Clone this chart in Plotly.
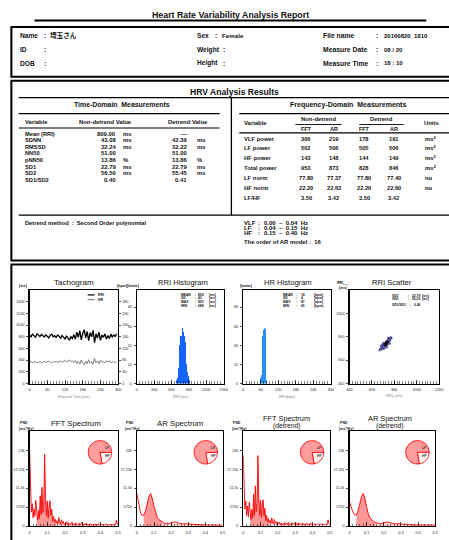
import plotly.graph_objects as go

W, H = 449, 540
FONT = "Liberation Sans, Arial, Noto Sans CJK JP, sans-serif"

# ---------------- data ----------------
report_title = "Heart Rate Variability Analysis Report"
patient_left = [("Name", "埼玉さん"), ("ID", ""), ("DOB", "")]
patient_mid = [("Sex", "Female"), ("Weight", ""), ("Height", "")]
patient_right = [("File name", "20160820_1810"), ("Measure Date", "08 / 20"), ("Measure Time", "18 : 10")]

td_vars = ["Mean (RRI)", "SDNN", "RMSSD", "NN50", "pNN50", "SD1", "SD2", "SD1/SD2"]
td_nondetrend = ["809.00", "43.08", "32.24", "51.00", "13.86", "22.79", "56.50", "0.40"]
td_detrend = ["—", "42.39", "32.22", "51.00", "13.86", "22.79", "55.45", "0.41"]
td_units = ["ms", "ms", "ms", "", "%", "ms", "ms", ""]
td_units_d = ["", "ms", "ms", "", "%", "ms", "ms", ""]

fd_vars = ["VLF power", "LF power", "HF power", "Total power", "LF norm", "HF norm", "LF/HF"]
fd_fft = ["306", "502", "143", "953", "77.80", "22.20", "3.50"]
fd_ar = ["219", "506", "148", "873", "77.37", "22.63", "3.42"]
fd_fft_d = ["178", "505", "144", "828", "77.80", "22.20", "3.50"]
fd_ar_d = ["191", "506", "149", "846", "77.40", "22.60", "3.42"]
fd_units = ["ms<sup>2</sup>", "ms<sup>2</sup>", "ms<sup>2</sup>", "ms<sup>2</sup>", "nu", "nu", ""]

bands = [("VLF", "0.00  –  0.04  Hz"), ("LF", "0.04  –  0.15  Hz"), ("HF", "0.15  –  0.40  Hz")]
ar_order = 16
detrend_method = "Second Order polynomial"

# pie values (LF norm / HF norm) for FFT, AR, FFT detrend, AR detrend
lf_norm = [77.80, 77.37, 77.80, 77.40]
hf_norm = [22.20, 22.63, 22.20, 22.60]

# tachogram
tach_t = [0, 5, 10, 15, 20, 25, 30, 35, 40, 45, 50, 55, 60, 65, 70, 75, 80, 85, 90, 95,
          100, 105, 110, 115, 120, 125, 130, 135, 140, 145, 150, 155, 160, 165, 170, 175, 180, 185, 190, 195,
          200, 205, 210, 215, 220, 225, 230, 235, 240, 245, 250, 255, 260, 265, 270, 275, 280, 285, 290, 295]
tach_rri = [830, 800, 845, 815, 790, 850, 820, 805, 840, 810,
            795, 835, 812, 780, 825, 845, 800, 818, 790, 830,
            808, 770, 822, 795, 760, 815, 785, 740, 800, 770,
            835, 760, 880, 790, 905, 745, 860, 920, 780, 890,
            735, 870, 800, 910, 700, 850, 775, 880, 740, 830,
            790, 850, 760, 820, 770, 845, 795, 830, 805, 850]
tach_hr = [72.3, 75.0, 71.0, 73.6, 75.9, 70.6, 73.2, 74.5, 71.4, 74.1,
           75.5, 71.9, 73.9, 76.9, 72.7, 71.0, 75.0, 73.3, 75.9, 72.3,
           74.3, 77.9, 73.0, 75.5, 78.9, 73.6, 76.4, 81.1, 75.0, 77.9,
           71.9, 78.9, 68.2, 75.9, 66.3, 80.5, 69.8, 65.2, 76.9, 67.4,
           81.6, 69.0, 75.0, 65.9, 85.7, 70.6, 77.4, 68.2, 81.1, 72.3,
           75.9, 70.6, 78.9, 73.2, 77.9, 71.0, 75.5, 72.3, 74.5, 70.6]

# RRI histogram
rri_bins = [690, 700, 710, 720, 730, 740, 750, 760, 770, 780, 790, 800,
            810, 820, 830, 840, 850, 860, 870, 880, 890, 900, 910, 920]
rri_counts = [2, 3, 5, 8, 13, 20, 24, 25, 25, 26, 29, 30,
              27, 25, 24, 22, 16, 10, 7, 6, 4, 3, 2, 1]
rri_stats = [("MEAN", "809", "[ms]"), ("SD", "43", "[ms]"), ("MAX", "925", "[ms]"), ("MIN", "688", "[ms]")]

# HR histogram
hr_bins = [60, 62, 64, 66, 68, 70, 72, 74, 76, 78, 80, 82]
hr_counts = [6, 9, 14, 50, 53, 56, 58, 60, 57, 12, 4, 1]
hr_stats = [("MEAN", "74", "[bpm]"), ("SD", "4", "[bpm]"), ("MAX", "87", "[bpm]"), ("MIN", "65", "[bpm]")]

# RRI scatter (Poincare)
sc_x = [680, 688, 690, 695, 700, 702, 705, 708, 712, 715, 718, 720, 722, 725, 728, 730, 733, 735, 738, 740,
        742, 745, 748, 750, 753, 756, 758, 760, 765, 770, 775, 680, 672, 668, 700, 760, 710, 745, 690, 735]
sc_y = [700, 690, 712, 705, 720, 698, 730, 712, 725, 740, 710, 735, 750, 728, 760, 742, 722, 765, 748, 770,
        735, 760, 778, 752, 770, 785, 762, 790, 775, 795, 788, 720, 695, 684, 745, 740, 700, 790, 730, 710]
core_x = [715, 720, 725, 728, 732, 735, 738, 722, 730, 740, 718, 726]
core_y = [732, 740, 745, 738, 750, 748, 755, 728, 745, 752, 736, 750]
sc_stats = [("SD1", "22.79", "[ms]"), ("SD2", "56.50", "[ms]"), ("SD1/SD2", "0.40", "")]

# spectra
fft_f = [0.000, 0.005, 0.010, 0.015, 0.020, 0.025, 0.030, 0.035, 0.040, 0.045,
         0.050, 0.055, 0.060, 0.065, 0.070, 0.075, 0.080, 0.085, 0.090, 0.095,
         0.100, 0.105, 0.110, 0.115, 0.120, 0.125, 0.130, 0.135, 0.140, 0.145,
         0.150, 0.155, 0.160, 0.165, 0.170, 0.175, 0.180, 0.185, 0.190, 0.195,
         0.200, 0.205, 0.210, 0.215, 0.220, 0.225, 0.230, 0.235, 0.240, 0.245,
         0.250, 0.255, 0.260, 0.265, 0.270, 0.275, 0.280, 0.285, 0.290, 0.295,
         0.300, 0.305, 0.310, 0.315, 0.320, 0.325, 0.330, 0.335, 0.340, 0.345,
         0.350, 0.355, 0.360, 0.365, 0.370, 0.375, 0.380, 0.385, 0.390, 0.395,
         0.400, 0.405, 0.410, 0.415, 0.420, 0.425, 0.430, 0.435, 0.440, 0.445,
         0.450, 0.455, 0.460, 0.465, 0.470, 0.475, 0.480, 0.485, 0.490, 0.495, 0.500]
fft_psd = [23000, 12500, 4200, 6800, 2500, 5200, 3000, 7800, 3600, 1800,
           4800, 2200, 9200, 3500, 11800, 4100, 6500, 21800, 8600, 3100,
           7600, 2400, 6200, 7700, 3300, 5100, 1500, 3000, 1200, 2100,
           900, 1600, 700, 2600, 1100, 500, 1900, 800, 1400, 400,
           900, 600, 1300, 300, 1000, 500, 200, 800, 1200, 400,
           700, 300, 1000, 500, 200, 600, 900, 300, 500, 1100,
           400, 200, 700, 300, 900, 400, 600, 200, 500, 800,
           300, 200, 600, 400, 700, 200, 500, 300, 800, 400,
           200, 500, 300, 600, 200, 400, 700, 300, 200, 500,
           300, 600, 200, 400, 300, 500, 200, 400, 1800, 600, 300]
fft_psd_d = [21500, 14500, 5200, 7600, 3200, 6100, 2800, 7200, 3900, 2000,
             5100, 2400, 9600, 3300, 12200, 4400, 6900, 21400, 8300, 3300,
             7900, 2600, 6500, 8000, 3100, 5400, 1700, 3200, 1300, 2300,
             1000, 1700, 800, 2500, 1200, 600, 2000, 900, 1300, 500,
             1000, 700, 1200, 400, 900, 600, 300, 900, 1100, 500,
             800, 400, 1100, 600, 300, 500, 1000, 400, 600, 1000,
             500, 300, 800, 400, 1000, 500, 700, 300, 600, 900,
             400, 300, 700, 500, 800, 300, 600, 400, 900, 500,
             300, 600, 400, 700, 300, 500, 800, 400, 300, 600,
             400, 700, 300, 500, 400, 600, 300, 500, 1900, 700, 400]
ar_f = [0.00, 0.01, 0.02, 0.03, 0.04, 0.05, 0.06, 0.07, 0.08, 0.09,
        0.10, 0.11, 0.12, 0.13, 0.14, 0.15, 0.16, 0.17, 0.18, 0.19,
        0.20, 0.21, 0.22, 0.23, 0.24, 0.25, 0.26, 0.27, 0.28, 0.29,
        0.30, 0.31, 0.32, 0.33, 0.34, 0.35, 0.36, 0.37, 0.38, 0.39,
        0.40, 0.41, 0.42, 0.43, 0.44, 0.45, 0.46, 0.47, 0.48, 0.49, 0.50]
ar_psd = [9900, 7000, 4300, 3200, 3300, 4500, 6600, 8900, 9900, 8400,
          6000, 3800, 2500, 1900, 1500, 1100, 900, 800, 700, 800,
          1000, 1200, 1300, 1100, 900, 800, 700, 700, 800, 700,
          600, 600, 500, 500, 500, 400, 400, 400, 350, 350,
          300, 300, 300, 300, 250, 250, 300, 350, 400, 350, 300]
ar_psd_d = [7400, 5800, 4200, 3400, 3400, 4600, 6700, 9000, 9900, 8300,
            5800, 3600, 2400, 1800, 1400, 1100, 900, 800, 700, 800,
            1000, 1200, 1300, 1100, 900, 800, 700, 700, 800, 700,
            600, 600, 500, 500, 500, 400, 400, 400, 350, 350,
            300, 300, 300, 300, 250, 250, 300, 350, 400, 350, 300]


# ---------------- helpers ----------------
def X(px):
    return px / W


def Y(py):
    return 1 - py / H


annotations = []
shapes = []


def T(x, y, s, size=6, xa="left", bold=True, color="#111"):
    annotations.append(dict(
        x=X(x), y=Y(y), xref="paper", yref="paper",
        text=("<b>" + s + "</b>") if (bold and s) else s,
        showarrow=False, xanchor=xa, yanchor="middle", borderpad=0,
        font=dict(size=size, color=color, family=FONT)))


def L(x0, y0, x1, y1, w=1.2, color="black"):
    shapes.append(dict(type="line", xref="paper", yref="paper",
                       x0=X(x0), y0=Y(y0), x1=X(x1), y1=Y(y1),
                       line=dict(color=color, width=w)))


def R(x0, y0, x1, y1, w=2.0):
    shapes.append(dict(type="rect", xref="paper", yref="paper",
                       x0=X(x0), y0=Y(y0), x1=X(x1), y1=Y(y1),
                       line=dict(color="black", width=w)))


# ---------------- header & boxes ----------------
T(231, 15, report_title, size=8.8, xa="center")
L(32, 20.5, 430, 20.5, w=2)
R(8.5, 27, 470, 77)
R(8.5, 81, 470, 261.5)
R(8.5, 265.5, 470, 600)

rows_y = [36, 50, 63.5]
for i, (lab, val) in enumerate(patient_left):
    T(16, rows_y[i], lab, 6.6)
    T(41, rows_y[i], ":", 6.6)
    if val:
        T(47, rows_y[i], val, 6.6)
for i, (lab, val) in enumerate(patient_mid):
    T(196, rows_y[i], lab, 6.6)
    T(214 if i == 0 else 222, rows_y[i], ":", 6.6)
    if val:
        T(221, rows_y[i], val, 6.2)
for i, (lab, val) in enumerate(patient_right):
    T(324, rows_y[i], lab, 6.8)
    T(378, rows_y[i], ":", 6.6)
    T(386, rows_y[i], val, 6.0)

# ---------------- HRV analysis results ----------------
T(235, 92, "HRV Analysis Results", 8.6, xa="center")
L(16, 98, 470, 98, w=1.3)
L(232, 98, 232, 216, w=1.3)
L(16, 216, 470, 216, w=1.3)

# time domain
T(121, 105, "Time-Domain  Measurements", 6.9, xa="center")
L(16, 114, 220, 114, w=1.2)
L(16, 128.5, 220, 128.5, w=1.2)
T(21, 122, "Variable", 5.9)
T(104, 122, "Non-detrend Value", 5.9, xa="center")
T(188, 122, "Detrend Value", 5.9, xa="center")
td_y = [134.3, 141, 147.3, 154, 160.7, 167.3, 174, 180.7]
for i, v in enumerate(td_vars):
    T(21, td_y[i], v, 5.7)
    T(116, td_y[i], td_nondetrend[i], 5.9, xa="right")
    if td_units[i]:
        T(121, td_y[i], td_units[i], 5.9)
    if td_detrend[i] == "—":
        T(184, td_y[i], td_detrend[i], 5.9, xa="center")
    else:
        T(188, td_y[i], td_detrend[i], 5.9, xa="right")
    if td_units_d[i]:
        T(196, td_y[i], td_units_d[i], 5.9)
T(21, 224, "Detrend method  :  " + detrend_method, 5.7)

# frequency domain
T(350, 105, "Frequency-Domain  Measurements", 7.0, xa="center")
L(240, 114, 470, 114, w=1.2)
L(240, 133.3, 470, 133.3, w=1.2)
T(244, 123, "Variable", 5.9)
T(321, 119.5, "Non-detrend", 5.9, xa="center")
L(297, 125, 344, 125, w=0.9)
T(385, 119.5, "Detrend", 5.9, xa="center")
L(362, 125, 407, 125, w=0.9)
T(435, 123, "Units", 5.9, xa="center")
col_x = [308, 336, 367, 397]
for cx, h in zip(col_x, ["FFT", "AR", "FFT", "AR"]):
    T(cx, 129.5, h, 5.4, xa="center")
fd_y = [139.3, 148.3, 158.3, 168.3, 178.3, 188.3, 198.3]
for i, v in enumerate(fd_vars):
    T(244, fd_y[i], v, 5.9)
    for cx, arr in zip(col_x, [fd_fft, fd_ar, fd_fft_d, fd_ar_d]):
        T(cx, fd_y[i], arr[i], 5.7, xa="center")
    if fd_units[i]:
        T(428, fd_y[i], fd_units[i], 5.9)
band_y = [224.3, 229.2, 234.2]
for i, (b, rng) in enumerate(bands):
    T(244, band_y[i], b, 6.0)
    T(258, band_y[i], ":", 6.0)
    T(264, band_y[i], rng, 6.0)
T(244, 243.3, "The order of AR model :  " + str(ar_order), 5.9)

# ---------------- plots ----------------
row1 = [291, 385]
row2 = [433, 528]
cols1 = [[27, 117], [136, 224], [244, 333], [352, 443]]
cols2 = [[27, 117], [136, 223], [244, 332], [352, 439]]


def xax(dom, rng, tickvals, minor_dtick, anchor, ticktext=None):
    d = dict(domain=[X(dom[0]), X(dom[1])], range=rng, anchor=anchor,
             showline=True, mirror=True, linecolor="black", linewidth=1.3,
             ticks="inside", ticklen=4, tickwidth=0.7, tickcolor="black",
             tickmode="array", tickvals=tickvals,
             tickfont=dict(size=3.8, family=FONT, color="#222"),
             minor=dict(dtick=minor_dtick, tick0=rng[0], ticks="inside", ticklen=2.2,
                        tickwidth=0.5, tickcolor="black", showgrid=False),
             showgrid=False, zeroline=False, fixedrange=True, ticklabelstandoff=2)
    if ticktext is not None:
        d["ticktext"] = ticktext
    return d


def yax(dom, rng, tickvals, anchor, side="left"):
    return dict(domain=[Y(dom[1]), Y(dom[0])], range=rng, anchor=anchor, side=side,
                showline=True, mirror=True, linecolor="black", linewidth=1.3,
                ticks="outside", ticklen=2, tickwidth=0.7, tickcolor="black",
                tickmode="array", tickvals=tickvals,
                tickfont=dict(size=3.7, family=FONT, color="#222"),
                showgrid=False, zeroline=False, fixedrange=True, ticklabelstandoff=1)


layout_axes = {}
traces = []

# Tachogram
layout_axes["xaxis"] = xax(cols1[0], [0, 300], [0, 60, 120, 180, 240, 300], 10, "y")
layout_axes["yaxis"] = yax(row1, [0, 1600], [0, 200, 400, 600, 800, 1000, 1200, 1400], "x")
y2 = yax(row1, [0, 320], [0, 40, 80, 120, 160, 200, 240, 280], "x", side="right")
y2["overlaying"] = "y"
y2["mirror"] = False
y2["ticklabelstandoff"] = 0
layout_axes["yaxis2"] = y2
traces.append(go.Scatter(x=tach_t, y=tach_hr, mode="lines", line=dict(color="#808080", width=1.0),
                         xaxis="x", yaxis="y2"))
traces.append(go.Scatter(x=tach_t, y=tach_rri, mode="lines", line=dict(color="black", width=1.3),
                         xaxis="x", yaxis="y"))

# RRI histogram
layout_axes["xaxis2"] = xax(cols1[1], [0, 1500], [0, 300, 600, 900, 1200, 1500], 50, "y3")
layout_axes["yaxis3"] = yax(row1, [0, 49], [0, 10, 20, 30, 40], "x2")
traces.append(go.Bar(x=rri_bins, y=rri_counts, width=10, marker=dict(color="rgb(20,100,255)", line=dict(width=0)),
                     xaxis="x2", yaxis="y3"))

# HR histogram
layout_axes["xaxis3"] = xax(cols1[2], [0, 300], [0, 60, 120, 180, 240, 300], 10, "y4")
layout_axes["yaxis4"] = yax(row1, [0, 98], [0, 20, 40, 60, 80], "x3")
traces.append(go.Bar(x=hr_bins, y=hr_counts, width=2, marker=dict(color="rgb(40,145,255)", line=dict(width=0)),
                     xaxis="x3", yaxis="y4"))

# RRI scatter
layout_axes["xaxis4"] = xax(cols1[3], [400, 1200], [400, 600, 800, 1000, 1200], 25, "y5")
layout_axes["yaxis5"] = yax(row1, [400, 1200], [400, 600, 800, 1000], "x4")
traces.append(go.Scatter(x=sc_x, y=sc_y, mode="markers", marker=dict(color="#4a4a9c", size=2.2),
                         xaxis="x4", yaxis="y5"))
traces.append(go.Scatter(x=core_x, y=core_y, mode="markers", marker=dict(color="#111111", size=2.4),
                         xaxis="x4", yaxis="y5"))

# spectra
spec_axes = [("xaxis5", "yaxis6", "x5", "y6"), ("xaxis6", "yaxis7", "x6", "y7"),
             ("xaxis7", "yaxis8", "x7", "y8"), ("xaxis8", "yaxis9", "x8", "y9")]
spec_data = [(fft_f, fft_psd), (ar_f, ar_psd), (fft_f, fft_psd_d), (ar_f, ar_psd_d)]
for k, ((xa, ya, xr, yr), (fx, fy)) in enumerate(zip(spec_axes, spec_data)):
    layout_axes[xa] = xax(cols2[k], [0, 0.5], [0, 0.1, 0.2, 0.3, 0.4, 0.5], 0.02, yr,
                          ticktext=["0", "0.1", "0.2", "0.3", "0.4", "0.5"])
    layout_axes[ya] = yax(row2, [0, 28750], [0, 5750, 11500, 17250, 23000], xr)
    lf_idx = [i for i, f in enumerate(fx) if 0.04 - 1e-9 <= f <= 0.15 + 1e-9]
    hf_idx = [i for i, f in enumerate(fx) if 0.15 - 1e-9 <= f <= 0.40 + 1e-9]
    traces.append(go.Scatter(x=[fx[i] for i in hf_idx], y=[fy[i] for i in hf_idx], mode="lines",
                             line=dict(width=0), fill="tozeroy", fillcolor="rgba(255,205,205,0.9)",
                             xaxis=xr, yaxis=yr))
    traces.append(go.Scatter(x=[fx[i] for i in lf_idx], y=[fy[i] for i in lf_idx], mode="lines",
                             line=dict(width=0), fill="tozeroy", fillcolor="rgba(255,145,145,0.95)",
                             xaxis=xr, yaxis=yr))
    traces.append(go.Scatter(x=fx, y=fy, mode="lines", line=dict(color="#ff0000", width=0.9),
                             xaxis=xr, yaxis=yr))

# pies
pie_cx = [98.5, 206, 314, 421]
pie_cy = 454
pr = 12
for k in range(4):
    cx = pie_cx[k]
    traces.append(go.Pie(values=[hf_norm[k], lf_norm[k]], labels=["HF", "LF"],
                         domain=dict(x=[X(cx - pr), X(cx + pr)], y=[Y(pie_cy + pr), Y(pie_cy - pr)]),
                         rotation=90, direction="clockwise", sort=False,
                         marker=dict(colors=["#fff2f2", "#ff9c9c"], line=dict(color="#ff0000", width=0.8)),
                         textinfo="none", hoverinfo="skip", showlegend=False))
    T(cx + 4, pie_cy - 4, "LF", 3.4, bold=True, color="#333")
    T(cx + 4, pie_cy + 4, "HF", 3.4, bold=True, color="#333")

# plot titles
T(72, 283.3, "Tachogram", 8, xa="center", bold=False)
T(182.5, 283.3, "RRI Histogram", 7.6, xa="center", bold=False)
T(290, 283.3, "HR Histogram", 7.6, xa="center", bold=False)
T(395, 283.3, "RRI Scatter", 7.6, xa="center", bold=False)
T(74, 425, "FFT Spectrum", 7.8, xa="center", bold=False)
T(180, 425, "AR Spectrum", 7.8, xa="center", bold=False)
T(288, 419.8, "FFT Spectrum", 7.4, xa="center", bold=False)
T(288, 427.3, "(detrend)", 6.8, xa="center", bold=False)
T(393, 419.8, "AR Spectrum", 7.4, xa="center", bold=False)
T(393, 427.3, "(detrend)", 6.8, xa="center", bold=False)

# axis titles (tiny)
T(20, 287.3, "[ms]", 3.6, xa="center")
T(121, 287.3, "[bpm]", 3.6, xa="center")
T(132, 287.3, "[beats]", 3.6, xa="center")
T(247, 287.3, "[beats]", 3.6, xa="center")
T(345, 284.5, "RRI<sub>n+1</sub>", 3.6, xa="center")
T(345, 289.5, "[ms]", 3.6, xa="center")
T(72, 398, "Elapsed Time [sec]", 3.8, xa="center", bold=False, color="#888")
T(180, 398, "RRI [ms]", 3.8, xa="center", bold=False, color="#888")
T(288.5, 398, "HR [bpm]", 3.8, xa="center", bold=False, color="#888")
T(397.5, 398, "RRI<sub>n</sub> [ms]", 3.8, xa="center", bold=False, color="#888")
for cx in [21, 129, 238, 346]:
    T(cx, 425, "PSD", 3.6, xa="center")
    T(cx + 2, 430, "[ms<sup>2</sup>/Hz]", 3.6, xa="center")

# tachogram legend
L(86, 296, 93, 296, w=1.2, color="black")
L(86, 300.7, 93, 300.7, w=1.2, color="#808080")
T(95, 296, "RRI", 3.4)
T(95, 300.7, "HR", 3.4)

# stats texts
stat_y = [296, 299.5, 303.3, 307.2]
for i, (a, b, c) in enumerate(rri_stats):
    T(180, stat_y[i], a, 3.3)
    T(194, stat_y[i], ":", 3.3)
    T(197, stat_y[i], b, 3.3)
    T(208, stat_y[i], c, 3.3)
for i, (a, b, c) in enumerate(hr_stats):
    T(283, stat_y[i], a, 3.3)
    T(297, stat_y[i], ":", 3.3)
    T(302, stat_y[i], b, 3.3)
    T(315, stat_y[i], c, 3.3)
sc_stat_y = [297, 300.5, 306]
for i, (a, b, c) in enumerate(sc_stats):
    T(394, sc_stat_y[i], a, 3.3)
    T(410 if i < 2 else 412, sc_stat_y[i], ":", 3.3)
    T(414 if i < 2 else 416, sc_stat_y[i], b, 3.3)
    if c:
        T(425, sc_stat_y[i], c, 3.3)

fig = go.Figure(data=traces)
fig.update_layout(
    width=W, height=H, margin=dict(l=0, r=0, t=0, b=0),
    paper_bgcolor="white", plot_bgcolor="white",
    showlegend=False, hovermode=False, bargap=0,
    font=dict(family=FONT),
    annotations=annotations, shapes=shapes,
    **layout_axes,
)
fig.write_html("out.html", config={"displayModeBar": False, "staticPlot": True},
               post_script="document.body.style.margin='0px';document.body.style.overflow='hidden';")
